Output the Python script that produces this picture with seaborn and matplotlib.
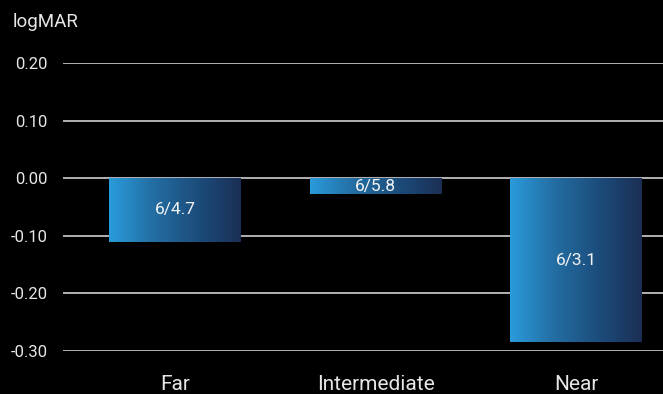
import matplotlib
matplotlib.use("Agg")
import matplotlib.pyplot as plt
import numpy as np
import pandas as pd
import seaborn as sns
from matplotlib.colors import LinearSegmentedColormap

categories = ["Far", "Intermediate", "Near"]
values = [-0.11, -0.028, -0.285]
bar_labels = ["6/4.7", "6/5.8", "6/3.1"]
yticks = [0.20, 0.10, 0.00, -0.10, -0.20, -0.30]

BG = "#000000"
FG = "#e6e6e6"

sns.set_theme(style="dark")
plt.rcParams["font.family"] = ["Roboto", "DejaVu Sans"]

df = pd.DataFrame({"category": categories, "value": values})

W, H = 663, 394
fig = plt.figure(figsize=(W / 100, H / 100), dpi=100, facecolor=BG)
# plot area: gridlines span x 63..663, y 0.20 at 63px, -0.30 at 351px
ax = fig.add_axes([63 / W, (H - 351) / H, 600 / W, 288 / H])
ax.set_facecolor(BG)

sns.barplot(data=df, x="category", y="value", ax=ax, width=0.655,
            color="#2a9ad8", saturation=1, linewidth=0, zorder=3)

ax.set_yticks(yticks)
ax.set_yticklabels([f"{t:.2f}" for t in yticks])
ax.yaxis.grid(True, color="#d0d0d0", linewidth=1.2, zorder=0)
ax.xaxis.grid(False)
for s in ax.spines.values():
    s.set_visible(False)
ax.tick_params(axis="y", colors=FG, labelsize=12, length=0, pad=11)
ax.tick_params(axis="x", colors=FG, labelsize=15, length=0, pad=17)
ax.set_xlabel("")
ax.set_ylabel("")

# horizontal gradient fill clipped to each bar
cmap = LinearSegmentedColormap.from_list(
    "bar", ["#2a9bdb", "#236ea3", "#1c4d7c", "#1b2f55"])
grad = np.linspace(0, 1, 256).reshape(1, -1)
for patch, lab in zip(ax.patches, bar_labels):
    x0, y0 = patch.get_x(), patch.get_y()
    w, h = patch.get_width(), patch.get_height()
    im = ax.imshow(grad, cmap=cmap, aspect="auto", zorder=4,
                   extent=[x0, x0 + w, min(y0, y0 + h), max(y0, y0 + h)])
    im.set_clip_path(patch)
    ax.text(x0 + w / 2, y0 + h / 2, lab, ha="center", va="center",
            color="#f2f2f2", fontsize=12.5, zorder=5)

ax.set_xlim(-0.559, 2.434)
ax.set_ylim(-0.30, 0.20)

fig.text(13 / W, 1 - 22 / H, "logMAR", color=FG, fontsize=13.5,
         ha="left", va="center")

fig.savefig("out.png", dpi=100, facecolor=BG)
